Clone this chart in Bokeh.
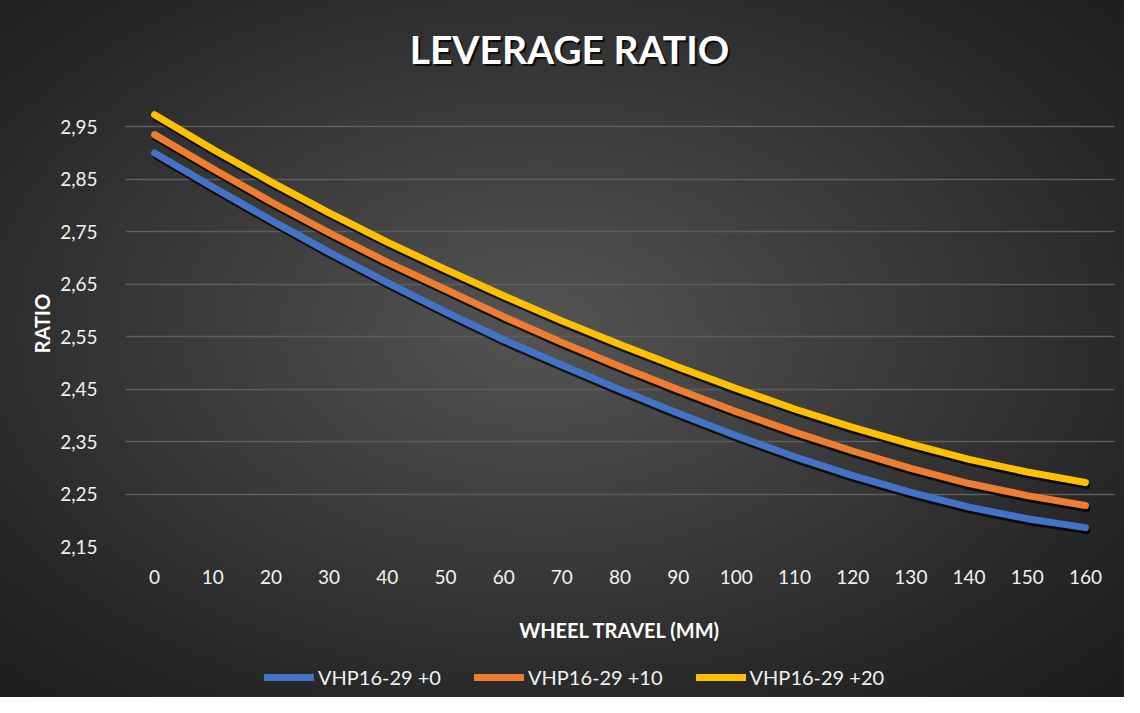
from bokeh.plotting import figure
from bokeh.layouts import column
from bokeh.models import (Range1d, FixedTicker, CustomJSTickFormatter,
                          Legend, LegendItem, Label)
from bokeh.embed import file_html
from bokeh.resources import INLINE

# ---------------- data ----------------
travel = [0, 10, 20, 30, 40, 50, 60, 70, 80, 90, 100, 110, 120, 130, 140, 150, 160]
ratio_plus0 = [2.900, 2.835, 2.772, 2.711, 2.653, 2.597, 2.544, 2.496, 2.449, 2.404,
               2.361, 2.321, 2.285, 2.253, 2.225, 2.203, 2.186]
ratio_plus10 = [2.935, 2.870, 2.807, 2.748, 2.692, 2.640, 2.588, 2.539, 2.493, 2.449,
                2.407, 2.368, 2.332, 2.299, 2.270, 2.247, 2.228]
ratio_plus20 = [2.973, 2.907, 2.845, 2.786, 2.730, 2.678, 2.628, 2.580, 2.535, 2.492,
                2.451, 2.412, 2.377, 2.345, 2.316, 2.292, 2.272]
series_names = ["VHP16-29 +0", "VHP16-29 +10", "VHP16-29 +20"]
series_colors = ["#4472C4", "#ED7D31", "#FFC000"]
y_ticks = [2.15, 2.25, 2.35, 2.45, 2.55, 2.65, 2.75, 2.85, 2.95]
x_ticks = travel
title_text = "LEVERAGE RATIO"
x_title = "WHEEL TRAVEL (MM)"
y_title = "RATIO"

FONT = "Lato"
W = 1124
H_TITLE = 80
H_MAIN = 570
H_LEG = 47


def strip(height):
    f = figure(width=W, height=height, output_backend="svg", toolbar_location=None,
               x_range=Range1d(0, 989), y_range=Range1d(1000, 1000 + height),
               x_axis_type=None, y_axis_type=None, min_border=0)
    f.background_fill_color = None
    f.border_fill_color = None
    f.outline_line_color = None
    f.grid.visible = False
    return f


# ---------------- title strip ----------------
tt = strip(H_TITLE)
tt.add_layout(Label(x=446, y=30, x_units="screen", y_units="screen", text=title_text,
                    text_align="center", text_baseline="middle", text_font=FONT,
                    text_font_style="bold", text_font_size="39px",
                    text_color="black", text_alpha=0.75))
tt.add_layout(Label(x=444, y=32, x_units="screen", y_units="screen", text=title_text,
                    text_align="center", text_baseline="middle", text_font=FONT,
                    text_font_style="bold", text_font_size="39px",
                    text_color="#ffffff"))

# ---------------- main chart ----------------
p = figure(width=W, height=H_MAIN, output_backend="svg", toolbar_location=None,
           x_range=Range1d(-5, 165), y_range=Range1d(2.15, 3.0),
           min_border_left=125, min_border_right=10, min_border_top=100 - H_TITLE,
           min_border_bottom=H_MAIN - (546 - H_TITLE))
p.background_fill_color = None
p.border_fill_color = None
p.outline_line_color = None

# shadow ranges (shift a few pixels down / right)
p.extra_y_ranges = {"sh": Range1d(2.15 + 0.0058, 3.0 + 0.0058)}
p.extra_x_ranges = {"sh": Range1d(-5 - 0.25, 165 - 0.25)}

p.xaxis.ticker = FixedTicker(ticks=x_ticks)
p.yaxis.ticker = FixedTicker(ticks=y_ticks)
p.yaxis.formatter = CustomJSTickFormatter(code="return tick.toFixed(2).replace('.', ',');")
for ax in (p.xaxis, p.yaxis):
    ax.axis_line_color = None
    ax.major_tick_line_color = None
    ax.minor_tick_line_color = None
    ax.major_label_text_color = "#f2f2f2"
    ax.major_label_text_font = FONT
    ax.major_label_text_font_size = "19px"
    ax.axis_label_text_color = "#ffffff"
    ax.axis_label_text_font = FONT
    ax.axis_label_text_font_style = "bold"
    ax.axis_label_text_font_size = "20px"
p.xaxis.major_label_standoff = 17
p.yaxis.major_label_standoff = 22
p.xaxis.axis_label = x_title
p.yaxis.axis_label = y_title
p.xaxis.axis_label_standoff = 31
p.yaxis.axis_label_standoff = 3

p.xgrid.grid_line_color = None
p.ygrid.grid_line_color = "#5e5e5e"
p.ygrid.grid_line_width = 1.5

series = [ratio_plus0, ratio_plus10, ratio_plus20]
for name, col, vals in zip(series_names, series_colors, series):
    p.line(travel, vals, line_color="black", line_alpha=0.75, line_width=7,
           line_cap="round", line_join="round", x_range_name="sh", y_range_name="sh")
for name, col, vals in zip(series_names, series_colors, series):
    p.line(travel, vals, line_color=col, line_width=7,
           line_cap="round", line_join="round")

# ---------------- legend strip ----------------
# its lines carry the same data but lie outside this strip's view.
lg = strip(H_LEG)
items = []
for name, col, vals in zip(series_names, series_colors, series):
    r = lg.line(travel, vals, line_color=col, line_width=7,
                line_cap="round", line_join="round")
    items.append(LegendItem(label=name, renderers=[r]))
legend = Legend(items=items, orientation="horizontal", location=(139, 8),
                background_fill_alpha=0, border_line_color=None,
                label_text_color="#f2f2f2", label_text_font=FONT,
                label_text_font_size="20px", glyph_width=50, glyph_height=22,
                label_standoff=4, spacing=33, padding=0, margin=0)
lg.add_layout(legend, "center")

layout = column(tt, p, lg, spacing=0, width=W, height=H_TITLE + H_MAIN + H_LEG)
layout.styles = {"background": "radial-gradient(ellipse farthest-corner at 48% 47%, "
                               "#545454 0%, #3c3c3c 40%, #272727 75%, #1c1c1c 100%)"}

open("out.html", "w").write(file_html(layout, INLINE))
